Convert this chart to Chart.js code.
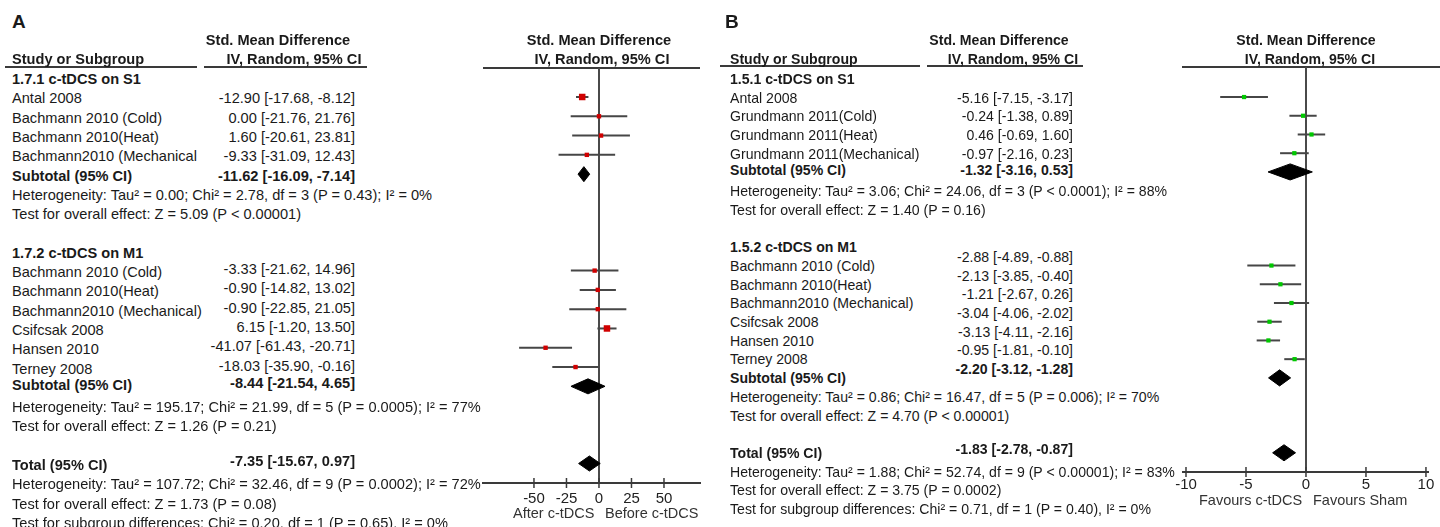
<!DOCTYPE html>
<html>
<head>
<meta charset="utf-8">
<script src="https://cdn.jsdelivr.net/npm/chart.js@4/dist/chart.umd.min.js"></script>
<style>
  body { margin: 0; width: 1440px; height: 527px; overflow: hidden; background: #fff; position: relative;
         font-family: "Liberation Sans", Arial, sans-serif; color: #1a1a1a; }
  .t { position: absolute; white-space: nowrap; font-size: 14px; line-height: 18px; z-index: 2; }
  .b { font-weight: bold; }
  .rule { position: absolute; height: 0; border-top: 2px solid #3a3a3a; }
  .plot { position: absolute; z-index: 1; }
</style>
</head>
<body>
<script>
// ---- Panel A: c-tDCS, Std. Mean Difference (IV, Random, 95% CI) ----
const groupsA = ['1.7.1 c-tDCS on S1', '1.7.2 c-tDCS on M1'];
const studiesA = ['Antal 2008', 'Bachmann 2010 (Cold)', 'Bachmann 2010(Heat)', 'Bachmann2010 (Mechanical',
  'Bachmann 2010 (Cold)', 'Bachmann 2010(Heat)', 'Bachmann2010 (Mechanical)', 'Csifcsak 2008', 'Hansen 2010', 'Terney 2008'];
const studyGroupA = [0, 0, 0, 0, 1, 1, 1, 1, 1, 1];
const smdA = [-12.90, 0.00, 1.60, -9.33, -3.33, -0.90, -0.90, 6.15, -41.07, -18.03];
const lowA = [-17.68, -21.76, -20.61, -31.09, -21.62, -14.82, -22.85, -1.20, -61.43, -35.90];
const highA = [-8.12, 21.76, 23.81, 12.43, 14.96, 13.02, 21.05, 13.50, -20.71, -0.16];
const subSmdA = [-11.62, -8.44];
const subLowA = [-16.09, -21.54];
const subHighA = [-7.14, 4.65];
const totalA = [-7.35, -15.67, 0.97];
const hetA = [
  'Heterogeneity: Tau² = 0.00; Chi² = 2.78, df = 3 (P = 0.43); I² = 0%',
  'Heterogeneity: Tau² = 195.17; Chi² = 21.99, df = 5 (P = 0.0005); I² = 77%',
  'Heterogeneity: Tau² = 107.72; Chi² = 32.46, df = 9 (P = 0.0002); I² = 72%',
];
const effectA = [
  'Test for overall effect: Z = 5.09 (P < 0.00001)',
  'Test for overall effect: Z = 1.26 (P = 0.21)',
  'Test for overall effect: Z = 1.73 (P = 0.08)',
];
const subgroupTestA = 'Test for subgroup differences: Chi² = 0.20, df = 1 (P = 0.65), I² = 0%';
const ticksA = [-50, -25, 0, 25, 50];
const favoursA = ['After c-tDCS', 'Before c-tDCS'];

// ---- Panel B: c-tDCS vs sham ----
const groupsB = ['1.5.1 c-tDCS on S1', '1.5.2 c-tDCS on M1'];
const studiesB = ['Antal 2008', 'Grundmann 2011(Cold)', 'Grundmann 2011(Heat)', 'Grundmann 2011(Mechanical)',
  'Bachmann 2010 (Cold)', 'Bachmann 2010(Heat)', 'Bachmann2010 (Mechanical)', 'Csifcsak 2008', 'Hansen 2010', 'Terney 2008'];
const studyGroupB = [0, 0, 0, 0, 1, 1, 1, 1, 1, 1];
const smdB = [-5.16, -0.24, 0.46, -0.97, -2.88, -2.13, -1.21, -3.04, -3.13, -0.95];
const lowB = [-7.15, -1.38, -0.69, -2.16, -4.89, -3.85, -2.67, -4.06, -4.11, -1.81];
const highB = [-3.17, 0.89, 1.60, 0.23, -0.88, -0.40, 0.26, -2.02, -2.16, -0.10];
const subSmdB = [-1.32, -2.20];
const subLowB = [-3.16, -3.12];
const subHighB = [0.53, -1.28];
const totalB = [-1.83, -2.78, -0.87];
const hetB = [
  'Heterogeneity: Tau² = 3.06; Chi² = 24.06, df = 3 (P < 0.0001); I² = 88%',
  'Heterogeneity: Tau² = 0.86; Chi² = 16.47, df = 5 (P = 0.006); I² = 70%',
  'Heterogeneity: Tau² = 1.88; Chi² = 52.74, df = 9 (P < 0.00001); I² = 83%',
];
const effectB = [
  'Test for overall effect: Z = 1.40 (P = 0.16)',
  'Test for overall effect: Z = 4.70 (P < 0.00001)',
  'Test for overall effect: Z = 3.75 (P = 0.0002)',
];
const subgroupTestB = 'Test for subgroup differences: Chi² = 0.71, df = 1 (P = 0.40), I² = 0%';
const ticksB = [-10, -5, 0, 5, 10];
const favoursB = ['Favours c-tDCS', 'Favours Sham'];

const PAGE_W = 1440;
const LINE_H = 18;

// Put one line of text on the page, vertically centred on y.
const place = function placeText(text, x, y, opts = {}) {
  const el = document.createElement('div');
  el.className = 't' + (opts.bold ? ' b' : '');
  el.textContent = text;
  el.style.top = `${y - LINE_H / 2}px`;
  if (opts.size) el.style.fontSize = `${opts.size}px`;
  if (opts.color) el.style.color = opts.color;
  if (opts.align === 'right') {
    el.style.right = `${PAGE_W - x}px`;
  } else if (opts.align === 'center') {
    el.style.left = `${x - 200}px`;
    el.style.width = '400px';
    el.style.textAlign = 'center';
  } else {
    el.style.left = `${x}px`;
  }
  document.body.appendChild(el);
};

const rule = function placeRule(x1, x2, y) {
  const el = document.createElement('div');
  el.className = 'rule';
  el.style.left = `${x1}px`;
  el.style.width = `${x2 - x1}px`;
  el.style.top = `${y - 1}px`;
  document.body.appendChild(el);
};

// RevMan style row numbering: heading, studies, subtotal, two notes, blank line per subgroup.
const layoutRows = function layoutForestRows(groupCount, studyGroup) {
  const rows = { head: [], study: [], sub: [], het: [], effect: [] };
  let r = 0;
  for (let g = 0; g < groupCount; g += 1) {
    rows.head.push(r++);
    studyGroup.forEach((sg, i) => { if (sg === g) rows.study[i] = r++; });
    rows.sub.push(r++);
    rows.het.push(r++);
    rows.effect.push(r++);
    r += 1;
  }
  rows.total = r++;
  rows.het.push(r++);
  rows.effect.push(r++);
  rows.subgroupTest = r;
  return rows;
};

const fmt = (v) => v.toFixed(2);
const ci = (e, l, h) => `${fmt(e)} [${fmt(l)}, ${fmt(h)}]`;

const drawPanel = function drawForestPanel(d, L) {
  const rows = layoutRows(d.groups.length, d.studyGroup);
  const py = (r) => L.rowTop + r * L.rowStep;
  const fs = L.fontSize;

  // panel letter and column headers
  place(d.letter, L.letterX, 22, { bold: true, size: 19 });
  place('Study or Subgroup', L.labelX, 59, { bold: true, size: fs });
  place('Std. Mean Difference', L.valueHeadX[0], 40, { bold: true, align: 'center', size: fs });
  place('IV, Random, 95% CI', L.valueHeadX[1], 59, { bold: true, align: 'center', size: fs });
  place('Std. Mean Difference', L.plotHeadX[0], 40, { bold: true, align: 'center', size: fs });
  place('IV, Random, 95% CI', L.plotHeadX[1], 59, { bold: true, align: 'center', size: fs });
  rule(L.rules[0][0], L.rules[0][1], L.ruleY);
  rule(L.rules[1][0], L.rules[1][1], L.ruleY);
  rule(L.rules[2][0], L.rules[2][1], L.ruleY + 0.5);

  const t = L.textShift;
  d.groups.forEach((name, g) => {
    place(name, L.labelX, py(rows.head[g]) + t, { bold: true, size: fs });
    place('Subtotal (95% CI)', L.labelX, py(rows.sub[g]) + t + L.subLabelShift[g], { bold: true, size: fs });
    place(ci(d.subSmd[g], d.subLow[g], d.subHigh[g]), L.valueRight, py(rows.sub[g]) + t + L.subValueShift[g],
      { bold: true, align: 'right', size: fs });
  });
  d.studies.forEach((name, i) => {
    place(name, L.labelX, py(rows.study[i]) + t, { size: fs });
    place(ci(d.smd[i], d.low[i], d.high[i]), L.valueRight, py(rows.study[i]) + t + L.valueShift[d.studyGroup[i]],
      { align: 'right', size: fs });
  });
  d.het.forEach((s, k) => place(s, L.labelX, py(rows.het[k]) + t, { size: fs }));
  d.effect.forEach((s, k) => place(s, L.labelX, py(rows.effect[k]) + t, { size: fs }));
  place('Total (95% CI)', L.labelX, py(rows.total) + t, { bold: true, size: fs });
  place(ci(d.total[0], d.total[1], d.total[2]), L.valueRight, py(rows.total) + t + L.totalValueShift,
    { bold: true, align: 'right', size: fs });
  place(d.subgroupTest, L.labelX, py(rows.subgroupTest) + t, { size: fs });
  place(d.favours[0], L.favoursX[0], L.favoursY, { size: 14.5, color: '#333' });
  place(d.favours[1], L.favoursX[1], L.favoursY, { size: 14.5, color: '#333' });

  // chart
  const canvas = document.createElement('canvas');
  canvas.className = 'plot';
  canvas.width = L.canvas.w;
  canvas.height = L.canvas.h;
  canvas.style.left = `${L.canvas.x}px`;
  canvas.style.top = `${L.canvas.y}px`;
  document.body.appendChild(canvas);

  const yMin = (L.plotTop - L.rowTop) / L.rowStep;
  const yMax = (L.plotBottom - L.rowTop) / L.rowStep;

  const whiskers = d.smd.map((_, i) => ({
    type: 'line',
    data: [{ x: d.low[i], y: rows.study[i] }, { x: d.high[i], y: rows.study[i] }],
    borderColor: '#464646',
    borderWidth: 2,
    pointRadius: 0,
    order: 3,
  }));

  const diamondsSrc = d.subSmd.map((e, g) => [e, d.subLow[g], d.subHigh[g], rows.sub[g]]);
  diamondsSrc.push([d.total[0], d.total[1], d.total[2], rows.total]);
  const h = L.diamondHalf;
  const diamonds = diamondsSrc.map(([e, lo, hi, r]) => ({
    type: 'line',
    data: [{ x: lo, y: r }, { x: e, y: r - h }, { x: hi, y: r }, { x: e, y: r + h }, { x: lo, y: r }],
    borderColor: '#000',
    backgroundColor: '#000',
    borderWidth: 1,
    fill: 'shape',
    pointRadius: 0,
    order: 1,
  }));

  const squares = {
    type: 'scatter',
    data: d.smd.map((v, i) => ({ x: v, y: rows.study[i] })),
    pointStyle: 'rect',
    pointRadius: L.squareRadius,
    pointBackgroundColor: L.markColor,
    pointBorderWidth: 0,
    order: 2,
  };

  const tickMarks = {
    type: 'scatter',
    data: d.ticks.map((v) => ({ x: v, y: yMax })),
    pointStyle: 'line',
    rotation: 90,
    pointRadius: 5,
    pointBorderColor: '#3a3a3a',
    pointBorderWidth: 1.5,
    clip: false,
    order: 0,
  };

  new Chart(canvas, {
    type: 'scatter',
    data: { datasets: [...whiskers, squares, ...diamonds, tickMarks] },
    options: {
      responsive: false,
      animation: false,
      events: [],
      layout: { padding: L.padding },
      plugins: { legend: { display: false }, tooltip: { enabled: false } },
      scales: {
        x: {
          type: 'linear',
          min: L.xRange[0],
          max: L.xRange[1],
          afterBuildTicks: (axis) => { axis.ticks = d.ticks.map((v) => ({ value: v })); },
          afterFit: (axis) => { axis.height = L.axisHeight; },
          grid: {
            drawTicks: false,
            color: (ctx) => (ctx.tick && ctx.tick.value === 0 ? '#4a4a4a' : 'rgba(0,0,0,0)'),
            lineWidth: 2,
          },
          border: { display: true, color: '#3a3a3a', width: 2 },
          ticks: {
            padding: L.tickPad,
            color: '#222',
            font: { family: 'Liberation Sans', size: 15 },
            maxRotation: 0,
          },
        },
        y: { type: 'linear', display: false, reverse: true, min: yMin, max: yMax },
      },
    },
  });
};

drawPanel({
  letter: 'A', groups: groupsA, studies: studiesA, studyGroup: studyGroupA,
  smd: smdA, low: lowA, high: highA, subSmd: subSmdA, subLow: subLowA, subHigh: subHighA,
  total: totalA, het: hetA, effect: effectA, subgroupTest: subgroupTestA, ticks: ticksA, favours: favoursA,
}, {
  fontSize: 14.6,
  letterX: 12, labelX: 12, valueRight: 355, valueHeadX: [278, 294], plotHeadX: [599, 602],
  rules: [[5, 197], [204, 367], [483, 700]], ruleY: 67,
  rowTop: 77.7, rowStep: 19.29, textShift: 1.5,
  valueShift: [0, -3], subValueShift: [0, -5], subLabelShift: [0, -3], totalValueShift: -4,
  favoursX: [513, 605], favoursY: 513,
  canvas: { x: 463, y: 58, w: 257, h: 469 },
  padding: { left: 20, right: 20, top: 10, bottom: 0 },
  plotTop: 68, plotBottom: 483, axisHeight: 44, tickPad: 7,
  xRange: [-89.2, 77.7], diamondHalf: 0.39,
  squareRadius: [4.6, 3.1, 3.1, 3.1, 3.1, 3.1, 3.1, 4.6, 3.1, 3.1], markColor: '#d00000',
});

drawPanel({
  letter: 'B', groups: groupsB, studies: studiesB, studyGroup: studyGroupB,
  smd: smdB, low: lowB, high: highB, subSmd: subSmdB, subLow: subLowB, subHigh: subHighB,
  total: totalB, het: hetB, effect: effectB, subgroupTest: subgroupTestB, ticks: ticksB, favours: favoursB,
}, {
  fontSize: 14.1,
  letterX: 725, labelX: 730, valueRight: 1073, valueHeadX: [999, 1013], plotHeadX: [1306, 1310],
  rules: [[720, 920], [927, 1083], [1182, 1440]], ruleY: 66,
  rowTop: 78.3, rowStep: 18.71, textShift: 0.5,
  valueShift: [0, -9], subValueShift: [-2, -9], subLabelShift: [-2, 0], totalValueShift: -4,
  favoursX: [1199, 1313], favoursY: 500,
  canvas: { x: 1163, y: 57, w: 277, h: 470 },
  padding: { left: 20, right: 12, top: 10, bottom: 0 },
  plotTop: 67, plotBottom: 471.7, axisHeight: 55, tickPad: 4,
  xRange: [-10.25, 10.17], diamondHalf: 0.43,
  squareRadius: 3, markColor: '#00c800',
});
</script>
</body>
</html>
